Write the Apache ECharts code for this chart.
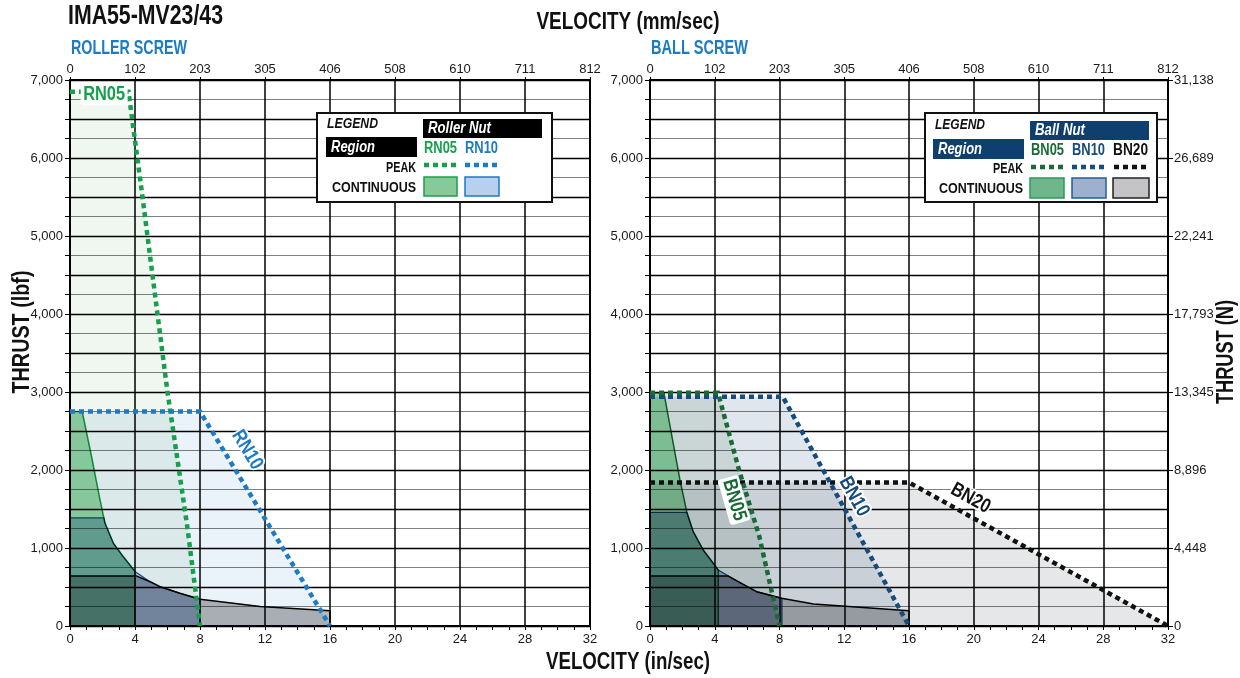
<!DOCTYPE html>
<html><head><meta charset="utf-8">
<script src="https://cdn.jsdelivr.net/npm/echarts@6/dist/echarts.min.js"></script>
<style>html,body{margin:0;padding:0;background:#fff}#c{width:1240px;height:678px}</style>
</head><body><div id="c"></div>
<script>
// ---------- data ----------
const velTicks = [0, 4, 8, 12, 16, 20, 24, 28, 32];               // in/sec
const mmLabels = ['0', '102', '203', '305', '406', '508', '610', '711', '812'];
const lbfLabels = ['0', '1,000', '2,000', '3,000', '4,000', '5,000', '6,000', '7,000'];
const nLabels = ['0', '4,448', '8,896', '13,345', '17,793', '22,241', '26,689', '31,138'];

// Roller screw  [velocity in/sec, thrust lbf]
const rn05Peak = [[0, 6850], [3.6, 6850], [4.4, 5600], [6.0, 3000], [7.2, 1300], [8, 0]];
const rn10Peak = [[0, 2750], [8, 2750], [16, 0]];
const rn05Cont = [[0, 2750], [0.75, 2750], [1.33, 2170], [1.85, 1615], [2.15, 1320], [2.67, 1060], [3.28, 888], [4, 700], [4, 0]];
const rn10Cont = [[0, 1385], [2.1, 1385], [2.15, 1320], [2.67, 1060], [3.28, 888], [4, 700], [4.9, 570], [5.54, 504], [6.77, 419], [8, 342], [8, 0]];
const rnBaseCont = [[0, 640], [4.1, 640], [4.9, 570], [5.54, 504], [6.77, 419], [8, 342], [11.7, 250], [16, 196], [16, 0]];

// Ball screw
const bn05Peak = [[0, 2990], [4.2, 2990], [5.5, 2000], [6.75, 1150], [8, 0]];
const bn10Peak = [[0, 2940], [8.2, 2940], [16, 0]];
const bn20Peak = [[0, 1840], [16, 1840], [32, 0]];
const bn05Cont = [[0, 2990], [0.86, 2990], [1.85, 1872], [2.27, 1466], [2.67, 1209], [3.29, 974], [4.22, 718], [4.22, 0]];
const bn10Cont = [[0, 1457], [2.27, 1457], [2.67, 1209], [3.29, 974], [4.22, 718], [4.32, 697], [5.45, 568], [6.59, 440], [8.15, 355], [8.15, 0]];
const bn20Cont = [[0, 640], [4.84, 640], [5.45, 568], [6.59, 440], [8.13, 355], [10.1, 282], [16, 196], [16, 0]];

// ---------- chart ----------
const FONT = "'Liberation Sans', Arial, Helvetica, sans-serif";
const chart = echarts.init(document.getElementById('c'), null, {renderer: 'canvas'});
const AX_FONT = {color: '#1a1a1a', fontSize: 13, fontFamily: FONT};

function xBottom(gi) {
  return {
    type: 'value', gridIndex: gi, min: velTicks[0], max: velTicks[velTicks.length - 1], interval: 4, position: 'bottom',
    axisLine: {show: true, onZero: false, lineStyle: {color: '#000', width: 2}},
    axisTick: {show: true, length: 4, lineStyle: {color: '#000', width: 1}},
    minorTick: {show: true, splitNumber: 4, length: 4, lineStyle: {color: '#000', width: 1}},
    splitLine: {show: true, lineStyle: {color: '#000', width: 1.5}},
    axisLabel: Object.assign({margin: 7, showMinLabel: true, showMaxLabel: true}, AX_FONT)
  };
}
function xTop(gi) {
  return {
    type: 'value', gridIndex: gi, min: velTicks[0], max: velTicks[velTicks.length - 1], interval: 4, position: 'top',
    axisLine: {show: true, onZero: false, lineStyle: {color: '#000', width: 2}},
    axisTick: {show: true, length: 3, lineStyle: {color: '#000'}},
    splitLine: {show: false},
    axisLabel: Object.assign({margin: 4, showMinLabel: true, showMaxLabel: true,
      formatter: v => mmLabels[velTicks.indexOf(v)]}, AX_FONT)
  };
}
function yLeft(gi) {
  return {
    type: 'value', gridIndex: gi, min: 0, max: 7000, interval: 500, position: 'left',
    axisLine: {show: true, onZero: false, lineStyle: {color: '#000', width: 2}},
    axisTick: {show: true, length: 5, lineStyle: {color: '#000'}},
    minorTick: {show: true, splitNumber: 2, length: 5, lineStyle: {color: '#000'}},
    splitLine: {show: true, lineStyle: {color: '#000', width: 1.3}},
    minorSplitLine: {show: true, lineStyle: {color: '#808080', width: 1.2}},
    axisLabel: Object.assign({margin: 7, showMinLabel: true, showMaxLabel: true,
      formatter: v => (v % 1000 === 0 ? lbfLabels[v / 1000] : '')}, AX_FONT)
  };
}
function yRight(gi, labels) {
  return {
    type: 'value', gridIndex: gi, min: 0, max: 7000, interval: 1000, position: 'right',
    axisLine: {show: true, onZero: false, lineStyle: {color: '#000', width: 2}},
    axisTick: {show: !!labels, length: 5, lineStyle: {color: '#000'}},
    splitLine: {show: false},
    axisLabel: Object.assign({show: !!labels, margin: 6, showMinLabel: true, showMaxLabel: true,
      formatter: v => (labels ? labels[v / 1000] : '')}, AX_FONT)
  };
}

function fill(data, xi, yi, color, border, bw) {
  return {
    type: 'line', xAxisIndex: xi, yAxisIndex: yi, data: data, symbol: 'none', silent: true,
    blendMode: 'multiply', z: 2,
    areaStyle: {color: color, opacity: 1},
    lineStyle: border ? {color: border, width: bw} : {width: 0, opacity: 0}
  };
}
function peak(data, xi, yi, color) {
  return {
    type: 'line', xAxisIndex: xi, yAxisIndex: yi, data: data, symbol: 'none', silent: true, z: 4,
    lineStyle: {color: color, width: 4.5, type: [5, 4], cap: 'butt', join: 'miter'}
  };
}

const option = {
  backgroundColor: '#fff',
  animation: false,
  grid: [
    {left: 70, right: 650, top: 80, bottom: 52, containLabel: false, outerBoundsMode: 'none'},
    {left: 650, right: 72, top: 80, bottom: 52, containLabel: false, outerBoundsMode: 'none'}
  ],
  xAxis: [xBottom(0), xTop(0), xBottom(1), xTop(1)],
  yAxis: [yLeft(0), yRight(0, null), yLeft(1), yRight(1, nLabels)],
  series: [
    fill(rn05Peak, 0, 0, '#f0f6f0'),
    fill(rn10Peak, 0, 0, '#eaf2fa'),
    fill(rnBaseCont, 0, 0, '#b8b8b9', '#000', 1.5),
    fill(rn10Cont, 0, 0, '#b5c8e9', '#1d5a8e', 1.2),
    fill(rn05Cont, 0, 0, '#9bdaa8', '#1aa04a', 1.5),
    peak(rn05Peak, 0, 0, '#13a14c'),
    peak(rn10Peak, 0, 0, '#1b7bc4'),
    fill(bn20Peak, 2, 2, '#e6e7e9'),
    fill(bn10Peak, 2, 2, '#e0e6ed'),
    fill(bn05Peak, 2, 2, '#e6ede6'),
    fill(bn20Cont, 2, 2, '#bebebe', '#000', 1.5),
    fill(bn10Cont, 2, 2, '#adb8d6', '#1f4f80', 1.2),
    fill(bn05Cont, 2, 2, '#9ee3b0', '#1a6e3a', 1.5),
    peak(bn20Peak, 2, 2, '#111'),
    peak(bn10Peak, 2, 2, '#164b7e'),
    peak(bn05Peak, 2, 2, '#186b37')
  ]
};
chart.setOption(option);

// ---------- texts, legends, line labels ----------
const mctx = document.createElement('canvas').getContext('2d');
function measure(s, size, italic) {
  mctx.font = (italic ? 'italic ' : '') + 'bold ' + size + 'px ' + FONT;
  return mctx.measureText(s).width;
}
// o.w = desired rendered width (condensed look): text is squeezed horizontally to match
function txt(x, y, s, o) {
  o = o || {};
  const size = o.size || 14;
  const sx = o.w ? o.w / measure(s, size, o.italic) : 1;
  return {
    type: 'text', x: x, y: y, rotation: o.rot || 0, scaleX: sx, z: 100, silent: true,
    style: Object.assign({
      text: s, fill: o.fill || '#111', fontSize: size, fontWeight: 'bold',
      fontStyle: o.italic ? 'italic' : 'normal', fontFamily: FONT,
      align: o.align || 'left', verticalAlign: 'middle'
    }, o.extra || {})
  };
}
function box(x, y, w, h, fillC, stroke, lw) {
  return {type: 'rect', z: 100, silent: true, shape: {x: x, y: y, width: w, height: h},
    style: {fill: fillC, stroke: stroke || null, lineWidth: lw || 0}};
}
function dots(x1, x2, y, color) {
  return {type: 'line', z: 100, silent: true, shape: {x1: x1, y1: y, x2: x2, y2: y},
    style: {stroke: color, lineWidth: 4.5, lineDash: [5, 4], lineCap: 'butt'}};
}
const g = [];
g.push(txt(68, 16, 'IMA55-MV23/43', {size: 28, w: 155}));
g.push(txt(628, 23, 'VELOCITY (mm/sec)', {size: 23, w: 183, align: 'center'}));
g.push(txt(71, 48, 'ROLLER SCREW', {size: 20, w: 116, fill: '#1b7bc4'}));
g.push(txt(651, 48, 'BALL SCREW', {size: 20, w: 97, fill: '#1b7bc4'}));
g.push(txt(628, 663, 'VELOCITY (in/sec)', {size: 23, w: 164, align: 'center'}));
g.push(txt(23, 332, 'THRUST (lbf)', {size: 23, w: 123, align: 'center', rot: Math.PI / 2}));
g.push(txt(1227, 352, 'THRUST (N)', {size: 23, w: 104, align: 'center', rot: Math.PI / 2}));

// left legend
g.push(box(317, 113, 235, 89, '#fff', '#111', 2));
g.push(txt(327, 124, 'LEGEND', {size: 15, w: 51, italic: true}));
g.push(box(326, 137, 91, 20, '#000'));
g.push(txt(331, 147, 'Region', {size: 17, w: 44, italic: true, fill: '#fff'}));
g.push(box(423, 119, 119, 19, '#000'));
g.push(txt(428, 128.5, 'Roller Nut', {size: 17, w: 63, italic: true, fill: '#fff'}));
g.push(txt(424, 149, 'RN05', {size: 16, w: 33, fill: '#13a14c'}));
g.push(txt(465, 149, 'RN10', {size: 16, w: 33, fill: '#1b7bc4'}));
g.push(txt(416, 168, 'PEAK', {size: 15, w: 30, align: 'right'}));
g.push(dots(424, 458, 165, '#13a14c'));
g.push(dots(465, 500, 165, '#1b7bc4'));
g.push(txt(416, 188, 'CONTINUOUS', {size: 15, w: 84, align: 'right'}));
g.push(box(424, 177, 33, 19, '#88c99a', '#1aa04a', 1.5));
g.push(box(465, 177, 34, 19, '#b8cfee', '#1b7bc4', 1.5));

// right legend
g.push(box(925, 113, 232, 89, '#fff', '#111', 2));
g.push(txt(935, 125, 'LEGEND', {size: 15, w: 50, italic: true}));
g.push(box(933, 139, 91, 20, '#0f3f6e'));
g.push(txt(938, 149, 'Region', {size: 17, w: 44, italic: true, fill: '#fff'}));
g.push(box(1030, 121, 119, 19, '#0f3f6e'));
g.push(txt(1035, 130.5, 'Ball Nut', {size: 17, w: 50, italic: true, fill: '#fff'}));
g.push(txt(1031, 151, 'BN05', {size: 16, w: 33, fill: '#186b37'}));
g.push(txt(1072, 151, 'BN10', {size: 16, w: 33, fill: '#164b7e'}));
g.push(txt(1113, 151, 'BN20', {size: 16, w: 35, fill: '#111'}));
g.push(txt(1023, 169, 'PEAK', {size: 15, w: 30, align: 'right'}));
g.push(dots(1031, 1065, 167, '#186b37'));
g.push(dots(1072, 1106, 167, '#164b7e'));
g.push(dots(1114, 1149, 167, '#111'));
g.push(txt(1023, 189, 'CONTINUOUS', {size: 15, w: 84, align: 'right'}));
g.push(box(1030, 178, 34, 20, '#6fb68b', '#2b9a5a', 1.5));
g.push(box(1072, 178, 34, 20, '#9db1cf', '#1f5f9f', 1.5));
g.push(box(1113, 178, 36, 20, '#c4c4c6', '#222', 1.5));

// line labels anchored in data coordinates
function lineLabel(gi, pt, s, color, deg, boxed) {
  const p = chart.convertToPixel({gridIndex: gi}, pt);
  const extra = boxed
    ? {backgroundColor: '#fff', padding: [1, 3, 0, 3], borderRadius: 3}
    : {stroke: '#fff', lineWidth: 4};
  return txt(p[0], p[1], s, {size: 20, w: 42, fill: color, align: 'center', rot: deg * Math.PI / 180, extra: extra});
}
g.push(lineLabel(0, [2.1, 6808], 'RN05', '#13a14c', 0, true));
g.push(lineLabel(0, [10.9, 2256], 'RN10', '#1b7bc4', -59, false));
g.push(lineLabel(1, [5.2, 1615], 'BN05', '#186b37', -74, true));
g.push(lineLabel(1, [12.6, 1658], 'BN10', '#164b7e', -61, false));
g.push(lineLabel(1, [19.8, 1637], 'BN20', '#111', -29, false));

chart.setOption({graphic: g});
</script></body></html>
